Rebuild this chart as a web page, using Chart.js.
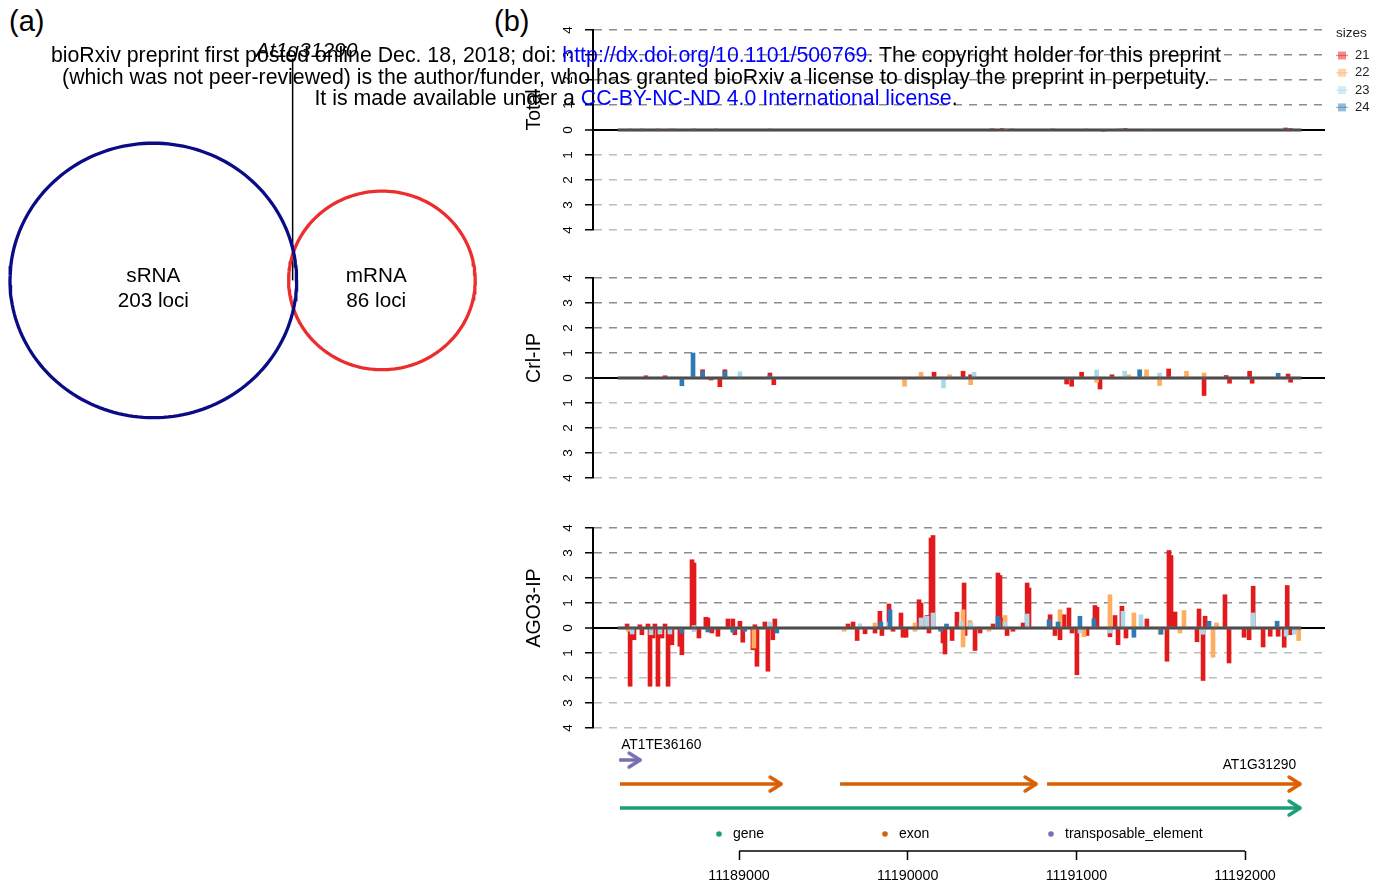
<!DOCTYPE html>
<html>
<head>
<meta charset="utf-8">
<script src="https://cdn.jsdelivr.net/npm/chart.js@4.4.0/dist/chart.umd.min.js"></script>
<style>
  html, body { margin: 0; padding: 0; background: #fff; }
  body { width: 1385px; height: 887px; position: relative; overflow: hidden; font-family: "Liberation Sans", Arial, sans-serif; }
  canvas { position: absolute; left: 0; }
  .tag { position: absolute; font-size: 29px; color: #000; line-height: 32px; }
  #header { position: absolute; left: 0; top: 45px; width: 1272px; text-align: center; font-size: 21.3px; line-height: 21.5px; color: #000; white-space: nowrap; z-index: 5; }
  #header .lnk { color: #0000ff; }
</style>
</head>
<body>
<div class="tag" style="left:9px;top:5px">(a)</div>
<div class="tag" style="left:494px;top:5px">(b)</div>
<canvas id="venn" width="520" height="887" style="top:0"></canvas>
<canvas id="pTotal" width="1385" height="220" style="top:20px"></canvas>
<canvas id="pCrl" width="1385" height="220" style="top:268px"></canvas>
<canvas id="pAgo" width="1385" height="220" style="top:518px"></canvas>
<canvas id="annot" width="1385" height="152" style="top:735px"></canvas>
<div id="header">bioRxiv preprint first posted online Dec. 18, 2018; doi: <span class="lnk">http://dx.doi.org/10.1101/500769</span>. The copyright holder for this preprint<br>(which was not peer-reviewed) is the author/funder, who has granted bioRxiv a license to display the preprint in perpetuity.<br>It is made available under a <span class="lnk">CC-BY-NC-ND 4.0 International license</span>.</div>
<script>
// ---- (a) venn ----
const vennSets = ['sRNA', 'mRNA'];
const vennCounts = [203, 86];
const vennShared = 1;
const vennSharedName = 'At1g31290';
const vennColors = ['#0b0b85', '#ec2d2d'];

// ---- (b) coverage, positions are bp after regionStart, values + / - strand ----
const regionStart = 11188000;
const sizes = ['21', '22', '23', '24'];
const sizeColors = ['#e31a1c', '#fdae61', '#abd9e9', '#2c7bb6'];
const panelNames = ['Total', 'Crl-IP', 'AGO3-IP'];
const yTicks = [-4, -3, -2, -1, 0, 1, 2, 3, 4];

const totPos21 = [354, 424, 519, 602, 733, 862, 1183, 2500, 2560, 2620, 2860, 3060, 3160, 3290, 4240, 4270];
const totVal21 = [0.04, 0.03, 0.03, 0.03, 0.03, 0.03, 0.04, 0.05, 0.06, 0.04, 0.04, 0.04, -0.05, 0.06, 0.08, 0.06];
const totPos22 = [2580, 3420];
const totVal22 = [0.03, 0.04];
const totPos23 = [3440];
const totVal23 = [-0.04];
const totPos24 = [3260];
const totVal24 = [0.04];

const crlPos21 = [448, 561, 784, 834, 886, 916, 1183, 1206, 2156, 2328, 2373, 2942, 2972, 3031, 3140, 3211, 3547, 3757, 3888, 3908, 4027, 4042, 4255, 4270];
const crlVal21 = [0.09, 0.09, 0.33, -0.08, -0.35, 0.33, 0.2, -0.27, 0.23, 0.27, 0.13, -0.24, -0.33, 0.23, -0.44, 0.13, 0.36, -0.7, 0.1, -0.21, 0.27, -0.21, 0.16, -0.17];
const crlPos22 = [1981, 2079, 2248, 2373, 3120, 3310, 3416, 3493, 3653, 3757];
const crlVal22 = [-0.33, 0.23, 0.13, -0.27, -0.17, 0.13, 0.33, -0.3, 0.27, 0.2];
const crlPos23 = [1005, 2212, 2393, 3120, 3286, 3493];
const crlVal23 = [0.25, -0.4, 0.23, 0.32, 0.27, 0.2];
const crlPos24 = [661, 727, 784, 916, 1183, 3375, 4196];
const crlVal24 = [-0.31, 1.0, 0.27, 0.27, 0.09, 0.33, 0.19];

const agoPos21 = [336, 354, 377, 412, 424, 460, 472, 490, 501, 519, 543, 561, 579, 602, 649, 661, 721, 733, 762, 803, 815, 839, 875, 934, 963, 975, 1005, 1022, 1082, 1094, 1106, 1153, 1171, 1200, 1212,
  1646, 1676, 1700, 1747, 1806, 1835, 1847, 1889, 1913, 1960, 1972, 1990, 2067, 2079, 2114, 2126, 2138, 2150, 2209, 2221, 2263, 2292, 2334, 2340, 2399, 2429, 2506, 2535, 2547, 2565, 2589, 2624, 2684, 2708, 2719, 2844, 2873, 2903, 2926, 2956, 2974,
  3003, 3063, 3110, 3122, 3199, 3229, 3247, 3270, 3294, 3418, 3537, 3549, 3561, 3585, 3715, 3727, 3751, 3763, 3881, 3905, 3994, 4024, 4048, 4107, 4149, 4196, 4232, 4250, 4268];
const agoVal21 = [0.16, -2.33, -0.47, 0.13, -0.27, 0.16, -2.33, -0.4, 0.16, -2.33, -0.4, 0.16, -2.33, -0.67, -0.73, -1.07, 2.73, 2.6, -0.4, 0.43, 0.4, -0.2, -0.33, 0.36, 0.36, -0.27, 0.27, -0.57, -0.87, 0.13, -1.53, 0.24, -1.73, -0.47, 0.36,
  0.16, 0.24, -0.5, -0.23, -0.2, 0.67, -0.3, 0.96, -0.13, 0.6, -0.37, -0.37, 1.13, 1.0, 0.5, -0.2, 3.6, 3.7, -0.6, -1.04, -0.5, 0.63, 1.8, -0.3, -0.9, -0.2, 0.16, 2.2, 2.1, 0.4, -0.3, -0.13, 0.2, 1.8, 1.6, 0.53, -0.3, -0.47, 0.53, 0.8, -0.2,
  -1.87, -0.3, 0.9, 0.83, -0.35, 0.5, -0.67, 0.87, -0.4, 0.36, -1.33, 3.1, 2.9, 0.64, -0.55, 0.76, -2.1, 0.47, 1.33, -1.4, -0.37, -0.47, 1.67, -0.76, -0.33, -0.33, -0.77, 1.7, -0.27];
const agoPos22 = [342, 1088, 1623, 1806, 2043, 2043, 2328, 2328, 2369, 2482, 2577, 2903, 3045, 3199, 3341, 3496, 3614, 3638, 3810, 3831, 4318];
const agoVal22 = [-0.13, -0.8, -0.13, 0.2, 0.2, -0.13, 0.73, -0.76, 0.3, -0.13, 0.5, 0.73, -0.35, 1.33, 0.6, -0.25, -0.2, 0.7, -1.17, 0.2, -0.5];
const agoPos23 = [366, 478, 531, 590, 733, 733, 1183, 1717, 1889, 2079, 2114, 2150, 2316, 2375, 2535, 2577, 2708, 3021, 3199, 3276, 3383, 3750, 4048, 4244, 4292];
const agoVal23 = [-0.24, -0.27, -0.24, -0.24, 0.1, -0.15, 0.24, 0.17, 0.24, 0.4, 0.47, 0.6, 0.24, 0.2, 0.33, 0.24, 0.56, -0.2, -0.2, 0.67, 0.53, -0.25, 0.6, -0.33, -0.25];
const agoPos24 = [661, 815, 963, 1034, 1224, 1841, 1895, 2195, 2230, 2535, 2838, 2891, 3021, 3104, 3341, 3502, 3786, 4190];
const agoVal24 = [-0.2, -0.16, -0.17, -0.13, -0.2, 0.24, 0.73, -0.13, 0.16, 0.47, 0.33, 0.24, 0.47, 0.37, -0.37, -0.25, 0.27, 0.27];

// covered stretch (grey zero line)
const coverFrom = 280, coverTo = 4335;

// ---- annotation ----
const featType = ['gene', 'exon', 'exon', 'exon', 'transposable_element'];
const featStart = [294, 294, 1599, 2826, 289];
const featEnd = [4332, 1255, 2767, 4332, 419];
const featLabel = ['AT1G31290', '', '', '', 'AT1TE36160'];
const typeNames = ['gene', 'exon', 'transposable_element'];
const typeColors = ['#1b9e77', '#d95f02', '#7570b3'];
const typeTrack = [1, 2, 3];
const xTicks = [11189000, 11190000, 11191000, 11192000];

const viewFrom = regionStart + 134, viewTo = regionStart + 4474;
const FONT = '"Liberation Sans", Arial, sans-serif';
Chart.defaults.font.family = FONT;
Chart.defaults.color = '#000';

// ================= venn =================
const vr = vennCounts.map(c => Math.sqrt(c / Math.PI));
function lensArea(d, r1, r2) {
  if (d >= r1 + r2) return 0;
  if (d <= Math.abs(r1 - r2)) return Math.PI * Math.min(r1, r2) ** 2;
  const a1 = r1 * r1 * Math.acos((d * d + r1 * r1 - r2 * r2) / (2 * d * r1));
  const a2 = r2 * r2 * Math.acos((d * d + r2 * r2 - r1 * r1) / (2 * d * r2));
  const k = 0.5 * Math.sqrt((-d + r1 + r2) * (d + r1 - r2) * (d - r1 + r2) * (d + r1 + r2));
  return a1 + a2 - k;
}
let lo = Math.abs(vr[0] - vr[1]), hi = vr[0] + vr[1];
for (let i = 0; i < 60; i++) {
  const mid = (lo + hi) / 2;
  if (lensArea(mid, vr[0], vr[1]) > vennShared) lo = mid; else hi = mid;
}
const vennCx = [0, (lo + hi) / 2];
const lensX = (vr[0] + vennCx[1] - vr[1]) / 2;

function circlePts(cx, r) {
  const pts = [];
  for (let k = 0; k <= 180; k++) {
    const t = k / 180 * Math.PI * 2;
    pts.push({ x: cx + r * Math.cos(t), y: r * Math.sin(t) });
  }
  return pts;
}

const pxX = 17.83, pxY = 17.07;   // venn was drawn slightly stretched
const vennText = {
  id: 'vennText',
  afterDatasetsDraw(chart) {
    const { ctx, scales: { x, y } } = chart;
    ctx.save();
    ctx.fillStyle = '#000';
    ctx.textAlign = 'center';
    ctx.textBaseline = 'alphabetic';
    ctx.font = '20.7px ' + FONT;
    const shift = [0, -0.32];
    vennSets.forEach((s, i) => {
      const px = x.getPixelForValue(vennCx[i] + shift[i]);
      const py = y.getPixelForValue(0);
      ctx.fillText(s, px, py + 1.5);
      ctx.fillText(vennCounts[i] + ' loci', px, py + 26.5);
    });
    ctx.font = 'italic 21px ' + FONT;
    ctx.fillText(vennSharedName, x.getPixelForValue(lensX) + 14, y.getPixelForValue(13) - 1);
    ctx.restore();
  }
};

new Chart(document.getElementById('venn'), {
  type: 'scatter',
  data: {
    datasets: vennSets.map((s, i) => ({
      label: s, data: circlePts(vennCx[i], vr[i]), showLine: true,
      borderColor: vennColors[i], borderWidth: 3.3, pointRadius: 0, fill: false
    })).concat([{
      label: vennSharedName, data: [{ x: lensX, y: 0 }, { x: lensX, y: 13 }], showLine: true,
      borderColor: '#000', borderWidth: 1.5, pointRadius: 0
    }])
  },
  options: {
    responsive: false, animation: false, devicePixelRatio: 1,
    layout: { padding: 0 },
    plugins: { legend: { display: false }, tooltip: { enabled: false } },
    scales: {
      x: { display: false, min: -153.3 / pxX, max: (520 - 153.3) / pxX },
      y: { display: false, min: 280.4 / pxY - 887 / pxY, max: 280.4 / pxY }
    }
  },
  plugins: [vennText]
});

// ================= coverage panels =================
const panelTitle = {
  id: 'panelTitle',
  afterDraw(chart, args, opts) {
    const ctx = chart.ctx, a = chart.chartArea;
    ctx.save();
    ctx.translate(chart.scales.y.left + 15, (a.top + a.bottom) / 2 - 20);
    ctx.rotate(-Math.PI / 2);
    ctx.font = '19.5px ' + FONT;
    ctx.fillStyle = '#000';
    ctx.textAlign = 'center';
    ctx.textBaseline = 'middle';
    ctx.fillText(opts.text, 0, 0);
    ctx.restore();
  }
};

const sizeKey = {
  id: 'sizeKey',
  afterDraw(chart, args, opts) {
    if (!opts.show) return;
    const ctx = chart.ctx, a = chart.chartArea;
    const x0 = a.right + 13;
    ctx.save();
    ctx.textBaseline = 'middle';
    ctx.textAlign = 'left';
    ctx.fillStyle = '#222';
    ctx.font = '13.5px ' + FONT;
    ctx.fillText('sizes', x0 - 2, a.top + 3);
    chart.data.datasets.filter(d => d.type === 'bar').forEach((d, i) => {
      const y = a.top + 25.5 + 17.3 * i;
      ctx.globalAlpha = 0.5;
      ctx.fillStyle = d.backgroundColor;
      ctx.fillRect(x0, y - 4, 8, 8);
      ctx.strokeStyle = d.backgroundColor;
      ctx.lineWidth = 1.3;
      ctx.beginPath();
      ctx.moveTo(x0 - 2, y);
      ctx.lineTo(x0 + 10, y);
      ctx.stroke();
      ctx.globalAlpha = 1;
      ctx.fillStyle = '#222';
      ctx.font = '13px ' + FONT;
      ctx.fillText(d.label, x0 + 17, y);
    });
    ctx.restore();
  }
};

function sizeSets(posList, valList) {
  const sets = sizes.map((s, i) => ({
    type: 'bar',
    label: s,
    data: posList[i].map((p, j) => ({ x: regionStart + p, y: valList[i][j] })),
    backgroundColor: sizeColors[i],
    borderWidth: 0,
    barThickness: 4,
    grouped: false,
    order: 4 - i
  }));
  sets.push({
    type: 'line', label: 'zero',
    data: [{ x: regionStart + coverFrom, y: 0 }, { x: regionStart + coverTo, y: 0 }],
    borderColor: 'rgba(95,95,95,0.8)', borderWidth: 3.5, pointRadius: 0, order: 0
  });
  return sets;
}

function makePanel(id, name, datasets, showKey) {
  return new Chart(document.getElementById(id), {
    type: 'bar',
    data: { datasets: datasets },
    options: {
      responsive: false, animation: false, devicePixelRatio: 1,
      layout: { padding: { left: 520, right: 60, top: 10, bottom: 10 } },
      plugins: {
        legend: { display: false }, tooltip: { enabled: false },
        panelTitle: { text: name }, sizeKey: { show: showKey }
      },
      scales: {
        x: { type: 'linear', min: viewFrom, max: viewTo, display: false, offset: false },
        y: {
          min: -4, max: 4,
          afterFit: s => { s.width = 73; s.paddingTop = 0; s.paddingBottom = 0; },
          afterBuildTicks: s => { s.ticks = yTicks.map(v => ({ value: v })); },
          ticks: {
            minRotation: 90, maxRotation: 90, crossAlign: 'center', padding: 13,
            color: '#000', font: { size: 13.5 }, callback: v => String(Math.abs(v))
          },
          grid: {
            color: c => c.tick.value === 0 ? '#000' : (c.tick.value > 0 ? '#8c8c8c' : '#bdbdbd'),
            lineWidth: c => c.tick.value === 0 ? 2 : 1.5,
            tickColor: '#000', tickLength: 8, tickWidth: 1.5
          },
          border: {
            color: '#000', width: 2,
            dash: c => (c.tick && c.tick.value !== 0) ? [8, 7] : []
          }
        }
      }
    },
    plugins: [panelTitle, sizeKey]
  });
}

makePanel('pTotal', panelNames[0],
  sizeSets([totPos21, totPos22, totPos23, totPos24], [totVal21, totVal22, totVal23, totVal24]), true);
makePanel('pCrl', panelNames[1],
  sizeSets([crlPos21, crlPos22, crlPos23, crlPos24], [crlVal21, crlVal22, crlVal23, crlVal24]), false);
makePanel('pAgo', panelNames[2],
  sizeSets([agoPos21, agoPos22, agoPos23, agoPos24], [agoVal21, agoVal22, agoVal23, agoVal24]), false);

// ================= annotation track =================
function chevron(color) {
  const c = document.createElement('canvas');
  c.width = 32; c.height = 20;
  const g = c.getContext('2d');
  g.strokeStyle = color;
  g.lineWidth = 3.5;
  g.lineCap = 'round';
  g.lineJoin = 'round';
  g.beginPath();
  g.moveTo(4, 3);
  g.lineTo(15, 10);
  g.lineTo(4, 17);
  g.stroke();
  return c;
}
const heads = typeColors.map(chevron);

const annotDecor = {
  id: 'annotDecor',
  afterDraw(chart) {
    const { ctx, chartArea: a, scales: { x, y } } = chart;
    ctx.save();
    // feature names
    ctx.font = '13.8px ' + FONT;
    ctx.fillStyle = '#000';
    ctx.textBaseline = 'middle';
    featLabel.forEach((lab, i) => {
      if (!lab) return;
      const t = typeNames.indexOf(featType[i]);
      const yy = y.getPixelForValue(typeTrack[t]);
      if (featType[i] === 'gene') {
        ctx.textAlign = 'right';
        ctx.fillText(lab, x.getPixelForValue(regionStart + featEnd[i]) - 5, yy - 43);
      } else {
        ctx.textAlign = 'left';
        ctx.fillText(lab, x.getPixelForValue(regionStart + featStart[i]) + 2, yy - 15);
      }
    });
    // feature key
    const colW = 166, x0 = (a.left + a.right) / 2 - colW * typeNames.length / 2;
    const ky = a.bottom - 17;
    ctx.font = '14px ' + FONT;
    ctx.textAlign = 'left';
    typeNames.forEach((n, i) => {
      ctx.fillStyle = typeColors[i];
      ctx.beginPath();
      ctx.arc(x0 + colW * i + 9, ky, 2.8, 0, Math.PI * 2);
      ctx.fill();
      ctx.fillStyle = '#000';
      ctx.fillText(n, x0 + colW * i + 23, ky);
    });
    // axis line between first and last tick
    ctx.strokeStyle = '#000';
    ctx.lineWidth = 1.5;
    ctx.beginPath();
    ctx.moveTo(x.getPixelForValue(xTicks[0]), x.top);
    ctx.lineTo(x.getPixelForValue(xTicks[xTicks.length - 1]), x.top);
    ctx.stroke();
    ctx.restore();
  }
};

new Chart(document.getElementById('annot'), {
  type: 'scatter',
  data: {
    datasets: featType.map((t, i) => {
      const k = typeNames.indexOf(t);
      return {
        label: t,
        data: [{ x: regionStart + featStart[i], y: typeTrack[k] }, { x: regionStart + featEnd[i], y: typeTrack[k] }],
        showLine: true, borderColor: typeColors[k], borderWidth: 3.5,
        pointRadius: [0, 7], pointStyle: heads[k]
      };
    })
  },
  options: {
    responsive: false, animation: false, devicePixelRatio: 1,
    layout: { padding: { left: 593, right: 60, top: 13, bottom: 0 } },
    plugins: { legend: { display: false }, tooltip: { enabled: false } },
    scales: {
      x: {
        type: 'linear', min: viewFrom, max: viewTo, offset: false,
        afterBuildTicks: s => { s.ticks = xTicks.map(v => ({ value: v })); },
        afterFit: s => { s.height = 36; },
        border: { display: false },
        grid: { drawOnChartArea: false, drawTicks: true, tickLength: 9, tickColor: '#000', tickWidth: 1.5 },
        ticks: { color: '#000', font: { size: 14.3 }, padding: 7, maxRotation: 0, autoSkip: false, callback: v => String(v) }
      },
      y: { display: false, min: -0.79, max: 3.5 }
    }
  },
  plugins: [annotDecor]
});
</script>
</body>
</html>
